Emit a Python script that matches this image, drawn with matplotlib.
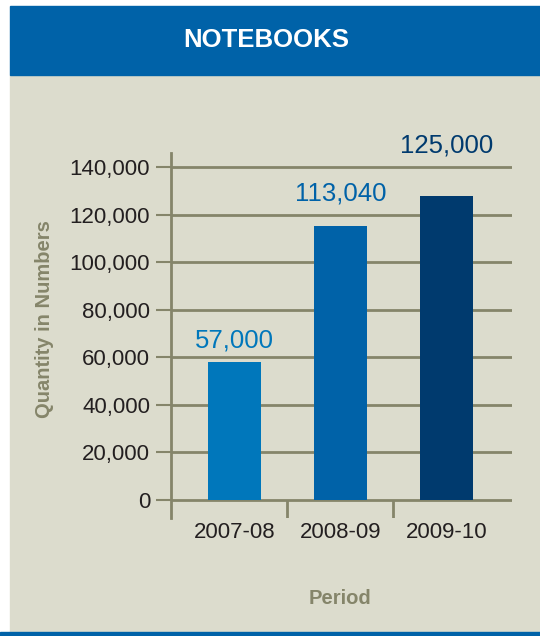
import matplotlib.pyplot as plt
from matplotlib.patches import Rectangle

# data
periods = ['2007-08', '2008-09', '2009-10']
bar_heights = [58000, 115200, 127800]          # as drawn in the picture
value_labels = ['57,000', '113,040', '125,000']
y_ticks = [0, 20000, 40000, 60000, 80000, 100000, 120000, 140000]

colors = {
    'header': '#0062a8',
    'bg': '#dcdccd',
    'grid': '#85856a',
    'text': '#231f20',
    'bars': ['#0077bb', '#0062a8', '#003a6e'],
}
label_offsets = [10.8, 18.7, 31]   # points above bar top (baseline)

plt.rcParams['font.family'] = ['Liberation Sans', 'DejaVu Sans']

W, H = 540, 636
fig = plt.figure(figsize=(W / 100, H / 100), dpi=100, facecolor='white')

# background panels
fig.patches.append(Rectangle((10 / W, 0), 1, 1 - 75 / H, transform=fig.transFigure,
                             color=colors['bg'], zorder=-2))
fig.patches.append(Rectangle((10 / W, 1 - 75 / H), 1, (75 - 6) / H, transform=fig.transFigure,
                             color=colors['header'], zorder=-2))
fig.patches.append(Rectangle((0, 0), 1, 4 / H, transform=fig.transFigure,
                             color=colors['header'], zorder=-1))
fig.text(266.5 / W, 1 - 40 / H, 'NOTEBOOKS', color='white', fontsize=18.5,
         fontweight='bold', ha='center', va='center')

ax = fig.add_axes([171 / W, (H - 518) / H, (512 - 171) / W, (518 - 153) / H])
ax.set_facecolor('none')
ax.set_zorder(2)

x = list(range(len(periods)))
bars = ax.bar(x, bar_heights, width=0.5, color=colors['bars'], zorder=3)

for b, txt, c, off in zip(bars, value_labels, colors['bars'], label_offsets):
    ax.annotate(txt, xy=(b.get_x() + b.get_width() / 2, b.get_height()),
                xytext=(0, off), textcoords='offset points', ha='center', va='baseline',
                fontsize=18.5, color=c, annotation_clip=False)

ax.set_xlim(-0.6, 2.62)
ax.set_ylim(-7570, 145900)

# grid lines incl. zero line
for v in y_ticks:
    ax.axhline(v, color=colors['grid'], lw=2, zorder=1)
# category separators below the axis
ax.vlines([0.5, 1.5], -7570, 0, color=colors['grid'], lw=2, zorder=1)

for s in ['top', 'right', 'bottom']:
    ax.spines[s].set_visible(False)
ax.spines['left'].set_color(colors['grid'])
ax.spines['left'].set_linewidth(2)

ax.set_yticks(y_ticks)
ax.set_yticklabels([f'{v:,}' for v in y_ticks])
ax.tick_params(axis='y', length=11, width=1.5, color=colors['grid'], pad=4,
               labelsize=16, labelcolor=colors['text'])
ax.set_xticks(x)
ax.set_xticklabels(periods)
ax.tick_params(axis='x', length=0, pad=3, labelsize=16, labelcolor=colors['text'])

fig.text(45 / W, 1 - 319 / H, 'Quantity in Numbers', rotation=90, fontsize=14.5,
         fontweight='bold', color=colors['grid'], ha='center', va='center')
fig.text(340 / W, 1 - 598 / H, 'Period', fontsize=14.5, fontweight='bold',
         color=colors['grid'], ha='center', va='center')

plt.savefig('out.png', dpi=100, facecolor='white')
